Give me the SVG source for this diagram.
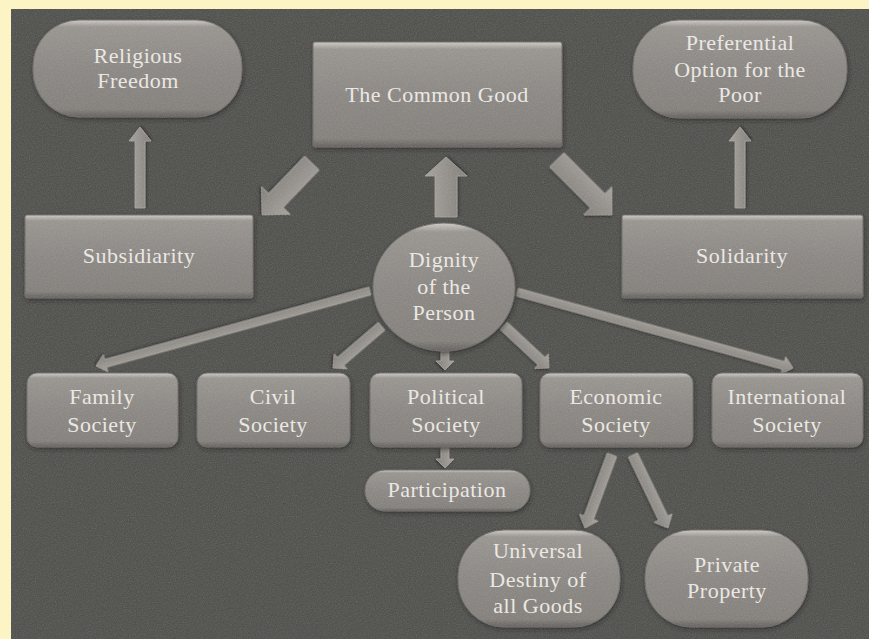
<svg xmlns="http://www.w3.org/2000/svg" width="869" height="639" viewBox="0 0 869 639">
<defs>
<style>
.node{fill:url(#ng);stroke:#6a6763;stroke-width:1;filter:url(#sh)}
.arr{fill:url(#ag);stroke:#a9a49d;stroke-width:0.8;filter:url(#sh2)}
.t{font-family:"Liberation Serif","Times New Roman",serif;font-size:22px;fill:#f1eee8;text-anchor:middle;letter-spacing:0.5px}
</style>
<linearGradient id="ng" x1="0" y1="0" x2="0" y2="1">
<stop offset="0" stop-color="#d2cdc6"/>
<stop offset="0.07" stop-color="#97938e"/>
<stop offset="0.5" stop-color="#898581"/>
<stop offset="0.92" stop-color="#817d78"/>
<stop offset="1" stop-color="#5e5b58"/>
</linearGradient>
<linearGradient id="ag" x1="0" y1="0" x2="0" y2="1">
<stop offset="0" stop-color="#a6a29c"/>
<stop offset="1" stop-color="#7f7b76"/>
</linearGradient>
<filter id="sh" x="-10%" y="-10%" width="120%" height="125%">
<feDropShadow dx="1" dy="2" stdDeviation="2" flood-color="#1a1a1a" flood-opacity="0.7"/>
</filter>
<filter id="sh2" x="-20%" y="-20%" width="140%" height="140%">
<feDropShadow dx="1" dy="1.5" stdDeviation="1.2" flood-color="#1a1a1a" flood-opacity="0.7"/>
</filter>
<filter id="noise" x="0" y="0" width="100%" height="100%">
<feTurbulence type="fractalNoise" baseFrequency="0.85" numOctaves="2" seed="5"/>
<feColorMatrix type="saturate" values="0"/>
</filter>
</defs>
<rect x="0" y="0" width="869" height="639" fill="#fcf4c4"/>
<rect x="11" y="9" width="858" height="630" fill="#4a4a47"/>

<g id="connectors">
<polygon class="arr" transform="translate(140,127) rotate(-90)" points="-81,-5 -14,-5 -14,-11 0,0 -14,11 -14,5 -81,5"/>
<polygon class="arr" transform="translate(740,127) rotate(-90)" points="-81,-5 -14,-5 -14,-11 0,0 -14,11 -14,5 -81,5"/>
<polygon class="arr" transform="translate(446,157) rotate(-90)" points="-60,-11 -19,-11 -19,-21 0,0 -19,21 -19,11 -60,11"/>
<polygon class="arr" transform="translate(262,215) rotate(133.9)" points="-72,-10 -20,-10 -20,-20 0,0 -20,20 -20,10 -72,10"/>
<polygon class="arr" transform="translate(612,215) rotate(45)" points="-78,-10 -20,-10 -20,-20 0,0 -20,20 -20,10 -78,10"/>
<polygon class="arr" transform="translate(96,366) rotate(164.7)" points="-284,-4 -10,-4 -10,-9 0,0 -10,9 -10,4 -284,4"/>
<polygon class="arr" transform="translate(333,368) rotate(139.4)" points="-64,-5 -10,-5 -10,-10 0,0 -10,10 -10,5 -64,5"/>
<polygon class="arr" transform="translate(445,370) rotate(90)" points="-20,-4 -9,-4 -9,-9 0,0 -9,9 -9,4 -20,4"/>
<polygon class="arr" transform="translate(549,368) rotate(43)" points="-62,-5 -10,-5 -10,-10 0,0 -10,10 -10,5 -62,5"/>
<polygon class="arr" transform="translate(793,368) rotate(15.4)" points="-286,-4 -10,-4 -10,-9 0,0 -10,9 -10,4 -286,4"/>
<polygon class="arr" transform="translate(445,468) rotate(90)" points="-20,-4 -9,-4 -9,-9 0,0 -9,9 -9,4 -20,4"/>
<polygon class="arr" transform="translate(585,528) rotate(110.3)" points="-78,-5 -11,-5 -11,-10 0,0 -11,10 -11,5 -78,5"/>
<polygon class="arr" transform="translate(668,528) rotate(64.4)" points="-81,-5 -11,-5 -11,-10 0,0 -11,10 -11,5 -81,5"/>
</g>

<g id="religious-freedom">
<rect class="node" x="33" y="20" width="209" height="97" rx="46"/>
<text class="t" x="138" y="63">Religious</text>
<text class="t" x="138" y="88">Freedom</text>
</g>
<g id="common-good">
<rect class="node" x="313" y="42" width="249" height="105" rx="2"/>
<text class="t" x="437" y="102">The Common Good</text>
</g>
<g id="preferential-option">
<rect class="node" x="633" y="20" width="214" height="98" rx="46"/>
<text class="t" x="740" y="50">Preferential</text>
<text class="t" x="740" y="77">Option for the</text>
<text class="t" x="740" y="102">Poor</text>
</g>
<g id="subsidiarity">
<rect class="node" x="25" y="215" width="228" height="83" rx="2"/>
<text class="t" x="139" y="263">Subsidiarity</text>
</g>
<g id="solidarity">
<rect class="node" x="622" y="215" width="241" height="83" rx="2"/>
<text class="t" x="742" y="263">Solidarity</text>
</g>
<g id="dignity">
<ellipse class="node" cx="444" cy="287" rx="71" ry="64"/>
<text class="t" x="444" y="267">Dignity</text>
<text class="t" x="444" y="294">of the</text>
<text class="t" x="444" y="320">Person</text>
</g>
<g id="family-society">
<rect class="node" x="27" y="373" width="151" height="74" rx="10"/>
<text class="t" x="102" y="404">Family</text>
<text class="t" x="102" y="432">Society</text>
</g>
<g id="civil-society">
<rect class="node" x="197" y="373" width="153" height="74" rx="10"/>
<text class="t" x="273" y="404">Civil</text>
<text class="t" x="273" y="432">Society</text>
</g>
<g id="political-society">
<rect class="node" x="370" y="373" width="152" height="74" rx="10"/>
<text class="t" x="446" y="404">Political</text>
<text class="t" x="446" y="432">Society</text>
</g>
<g id="economic-society">
<rect class="node" x="540" y="373" width="153" height="74" rx="10"/>
<text class="t" x="616" y="404">Economic</text>
<text class="t" x="616" y="432">Society</text>
</g>
<g id="international-society">
<rect class="node" x="712" y="373" width="151" height="74" rx="10"/>
<text class="t" x="787" y="404">International</text>
<text class="t" x="787" y="432">Society</text>
</g>
<g id="participation">
<rect class="node" x="365" y="470" width="165" height="41" rx="20"/>
<text class="t" x="447" y="497">Participation</text>
</g>
<g id="universal-destiny">
<rect class="node" x="458" y="530" width="162" height="97" rx="46"/>
<text class="t" x="538" y="558">Universal</text>
<text class="t" x="538" y="587">Destiny of</text>
<text class="t" x="538" y="613">all Goods</text>
</g>
<g id="private-property">
<rect class="node" x="645" y="530" width="163" height="97" rx="46"/>
<text class="t" x="727" y="572">Private</text>
<text class="t" x="727" y="598">Property</text>
</g>

<rect x="11" y="9" width="858" height="630" filter="url(#noise)" opacity="0.24" pointer-events="none"/>
</svg>
